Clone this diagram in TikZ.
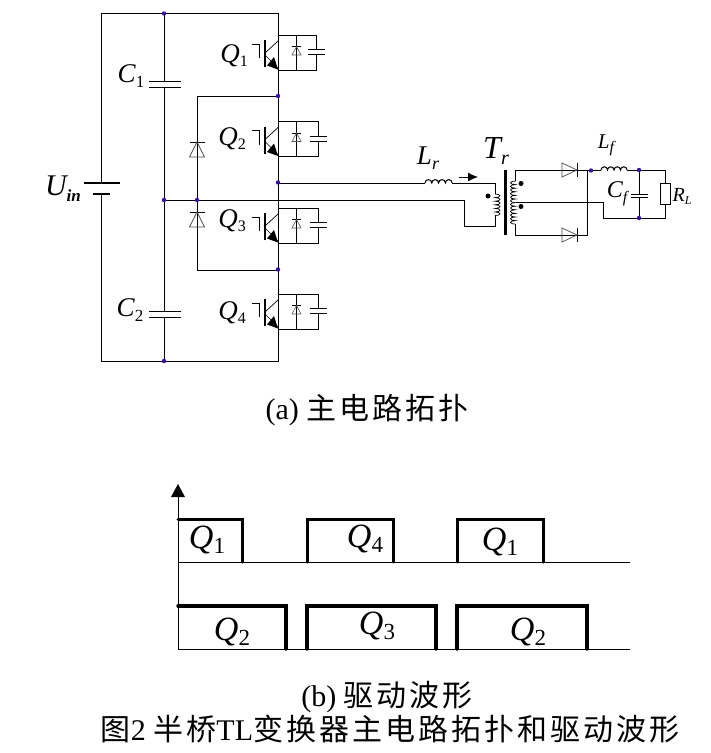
\documentclass[tikz,border=0pt]{standalone}
\usepackage{fontspec}
\setmainfont{Liberation Serif}
\newfontfamily\cjk[LetterSpace=10]{Noto Sans CJK SC}
\usetikzlibrary{arrows.meta}
\definecolor{dotc}{HTML}{3A0CA8}
\tikzset{
  wire/.style={line width=1pt,black},
  thin wire/.style={line width=0.7pt,black},
  junction/.style={circle,fill=dotc,inner sep=0pt,minimum size=4.4pt},
  sym/.style={font=\itshape\fontsize{27}{27}\selectfont,inner sep=0pt},
  symsmall/.style={font=\itshape\fontsize{21}{21}\selectfont,inner sep=0pt},
  captext/.style={font=\fontsize{30}{30}\selectfont,inner sep=0pt},
  pulseup/.style={line width=3pt,black,line cap=round,line join=miter},
  pulselow/.style={line width=3.4pt,black,line cap=round,line join=miter},
  axisline/.style={line width=0.9pt,black},
  wave/.style={font=\itshape\fontsize{34}{34}\selectfont,inner sep=0pt},
}
% Switch cell: #1 = x of the right rail, #2 = y of cell top, #3 = x of the snubber capacitor
\newcommand{\igbtcell}[3]{%
  \begin{scope}[shift={(#1,#2)}]
    \draw[line width=1.2pt] (-13,5)--(-13,32);
    \draw[thin wire] (-26,9)--(-19,9)--(-19,23);
    \draw[thin wire] (-13,18)--(0,6);
    \draw[thin wire] (-13,20)--(0,33);
    \fill (0,34.5)--(-11,30.5)--(-4,22)--cycle;
    \draw[wire] (0,0)--(#3,0)--(#3,14.5);
    \draw[wire] (#3,19.5)--(#3,35)--(0,35);
    \draw[wire] (#3-8.5,14.5)--(#3+8.5,14.5);
    \draw[wire] (#3-8.5,19.5)--(#3+8.5,19.5);
    \draw[wire] (18.5,0)--(18.5,35);
    \draw[wire] (14,11.5)--(23,11.5);
    \draw[line width=0.6pt,gray!70!black] (18.5,11.5)--(14,20)--(23,20)--cycle;
  \end{scope}}
% Vertical diode, cathode bar on top
\newcommand{\vdiode}[2]{%
  \draw[wire] (#1-7.5,#2)--(#1+7.5,#2);
  \draw[line width=0.7pt,gray!60!black] (#1,#2)--(#1-7.5,#2+15)--(#1+7.5,#2+15)--cycle;}
% Horizontal diode pointing right, bar at #1
\newcommand{\hdiode}[2]{%
  \draw[wire] (#1,#2-7)--(#1,#2+7);
  \draw[line width=0.7pt,gray!60!black] (#1,#2)--(#1-15,#2-7)--(#1-15,#2+7)--cycle;}
\begin{document}
\begin{tikzpicture}[x=1pt,y=-1pt]
\useasboundingbox (0,0) rectangle (711,753);
\fill[white] (0,0) rectangle (711,753);

% rails
\draw[wire] (101,183)--(101,13.5)--(278,13.5)--(278,361)--(101,361)--(101,194);
\draw[line width=2.6pt] (84,183)--(120,183);
\draw[line width=2.6pt] (93,194)--(110,194);
\draw[wire] (164,13.5)--(164,81);
\draw[wire] (164,87)--(164,311.5);
\draw[wire] (164,317.5)--(164,361);
\draw[wire] (149,81)--(181,81) (149,87)--(181,87);
\draw[wire] (149,311.5)--(181,311.5) (149,317.5)--(181,317.5);
% clamp diodes
\draw[wire] (278,96)--(197,96)--(197,270)--(278,270);
\vdiode{197}{142}
\vdiode{197}{212}
% switches
\igbtcell{278}{35}{38.5}
\igbtcell{278}{121.5}{40}
\igbtcell{278}{208}{40}
\igbtcell{278}{294}{40}
% bridge to transformer
\draw[wire] (164,200)--(464,200)--(464,226)--(495,226)--(495,215);
\draw[wire] (278,183)--(425,183);
\draw[wire] (425,183) arc (180:360:3.4) arc (180:360:3.4) arc (180:360:3.4) arc (180:360:3.4);
\draw[wire] (452.2,183)--(495,183)--(495,194);
\draw[thin wire] (495,194) arc (-90:90:5 and 1.8) arc (-90:90:5 and 1.8) arc (-90:90:5 and 1.8) arc (-90:90:5 and 1.8) arc (-90:90:5 and 1.8) arc (-90:90:5 and 1.8);
\draw[line width=3pt] (505,170)--(505,235);
\fill (488,196) circle (2.5);
\fill (521,183.5) circle (2.5);
\fill (521,206.5) circle (2.5);
\draw[-{Latex[length=10pt,width=9pt]},line width=0.9pt] (459,177)--(478,177);
% secondary
\draw[wire] (515.5,181)--(515.5,170)--(577,170);
\draw[wire] (515.5,224)--(515.5,235)--(577,235);
\draw[thin wire] (515.5,181) arc (-90:-270:5 and 1.8) arc (-90:-270:5 and 1.8) arc (-90:-270:5 and 1.8) arc (-90:-270:5 and 1.8) arc (-90:-270:5 and 1.8) arc (-90:-270:5 and 1.8);
\draw[thin wire] (515.5,202.6) arc (-90:-270:5 and 1.8) arc (-90:-270:5 and 1.8) arc (-90:-270:5 and 1.8) arc (-90:-270:5 and 1.8) arc (-90:-270:5 and 1.8) arc (-90:-270:5 and 1.8);
\draw[wire] (515.5,202)--(603,202)--(603,218)--(665.6,218)--(665.6,204);
\hdiode{577}{170}
\hdiode{577}{235}
\draw[wire] (577,170)--(601,170);
\draw[wire] (577,235)--(587,235)--(587,170);
\draw[wire] (601,170) arc (180:360:3.25) arc (180:360:3.25) arc (180:360:3.25) arc (180:360:3.25);
\draw[wire] (627,170)--(665.6,170)--(665.6,183);
\draw[wire] (639,170)--(639,194.5);
\draw[wire] (639,197.5)--(639,218);
\draw[wire] (631,194.5)--(648,194.5) (631,197.5)--(648,197.5);
\draw[wire] (660.5,183.5) rectangle (670.5,204);
% junctions
\node[junction] (j1) at (164,13.5) {};
\node[junction] (j2) at (164,361) {};
\node[junction] (j3) at (164,200) {};
\node[junction] (j4) at (197,200) {};
\node[junction] (j5) at (278,96) {};
\node[junction] (j6) at (278,182.5) {};
\node[junction] (j7) at (278,269.5) {};
\node[junction] (j8) at (591,170.5) {};
\node[junction] (j9) at (639,170) {};
\node[junction] (j10) at (639,218) {};
% circuit labels
\node[sym,font=\itshape\fontsize{30}{30}\selectfont] (uin) at (63,189) {U\raisebox{-6pt}{\fontsize{17}{17}\selectfont\bfseries in}};
\node[sym] (c1) at (131,76) {C\raisebox{-5pt}{\fontsize{17}{17}\selectfont\upshape 1}};
\node[sym] (c2) at (130,310) {C\raisebox{-5pt}{\fontsize{17}{17}\selectfont\upshape 2}};
\node[sym] (q1) at (234,56) {Q\raisebox{-4pt}{\fontsize{16}{16}\selectfont\upshape 1}};
\node[sym] (q2) at (232,139) {Q\raisebox{-4pt}{\fontsize{16}{16}\selectfont\upshape 2}};
\node[sym] (q3) at (232,221) {Q\raisebox{-4pt}{\fontsize{16}{16}\selectfont\upshape 3}};
\node[sym] (q4) at (232,313) {Q\raisebox{-4pt}{\fontsize{16}{16}\selectfont\upshape 4}};
\node[sym] (lr) at (428,158) {L\raisebox{-5pt}{\fontsize{18}{18}\selectfont r}};
\node[sym,font=\itshape\fontsize{32}{32}\selectfont] (tr) at (496,151) {T\raisebox{-6pt}{\fontsize{20}{20}\selectfont r}};
\node[symsmall] (lf) at (606,145) {L\raisebox{-4pt}{\fontsize{16}{16}\selectfont f}};
\node[symsmall,font=\itshape\fontsize{24}{24}\selectfont] (cf) at (617,194) {C\raisebox{-5pt}{\fontsize{16}{16}\selectfont f}};
\node[symsmall,font=\itshape\fontsize{20}{20}\selectfont] (rl) at (682,196) {R\raisebox{-3pt}{\fontsize{12}{12}\selectfont L}};
% waveforms
\draw[axisline] (178,649)--(178,490);
\fill (178,484)--(185,497)--(171,497)--cycle;
\draw[axisline] (178,562)--(630,562);
\draw[axisline] (178,649)--(630,649);
\draw[pulseup] (178,519)--(242,519)--(242,562);
\draw[pulseup] (307,562)--(307,519)--(393,519)--(393,562);
\draw[pulseup] (457,562)--(457,519)--(543,519)--(543,562);
\draw[pulselow] (178,606)--(286,606)--(286,649);
\draw[pulselow] (307,649)--(307,606)--(436,606)--(436,649);
\draw[pulselow] (457,649)--(457,606)--(587,606)--(587,649);
\node[wave] (w1) at (207,540) {Q\raisebox{-5pt}{\fontsize{23}{23}\selectfont\upshape 1}};
\node[wave] (w2) at (365,539) {Q\raisebox{-5pt}{\fontsize{23}{23}\selectfont\upshape 4}};
\node[wave] (w3) at (500,542) {Q\raisebox{-5pt}{\fontsize{23}{23}\selectfont\upshape 1}};
\node[wave] (w4) at (232,632) {Q\raisebox{-5pt}{\fontsize{23}{23}\selectfont\upshape 2}};
\node[wave] (w5) at (377,626) {Q\raisebox{-5pt}{\fontsize{23}{23}\selectfont\upshape 3}};
\node[wave] (w6) at (528,632) {Q\raisebox{-5pt}{\fontsize{23}{23}\selectfont\upshape 2}};
% captions
\node[captext] (capa) at (367,410) {(a) {\cjk 主电路拓扑}};
\node[captext] (capb) at (387,697) {(b) {\cjk 驱动波形}};
\node[captext] (capf) at (390,729) {{\cjk 图}2 {\cjk 半桥}TL{\cjk 变换器主电路拓扑和驱动波形}};
\end{tikzpicture}
\end{document}
